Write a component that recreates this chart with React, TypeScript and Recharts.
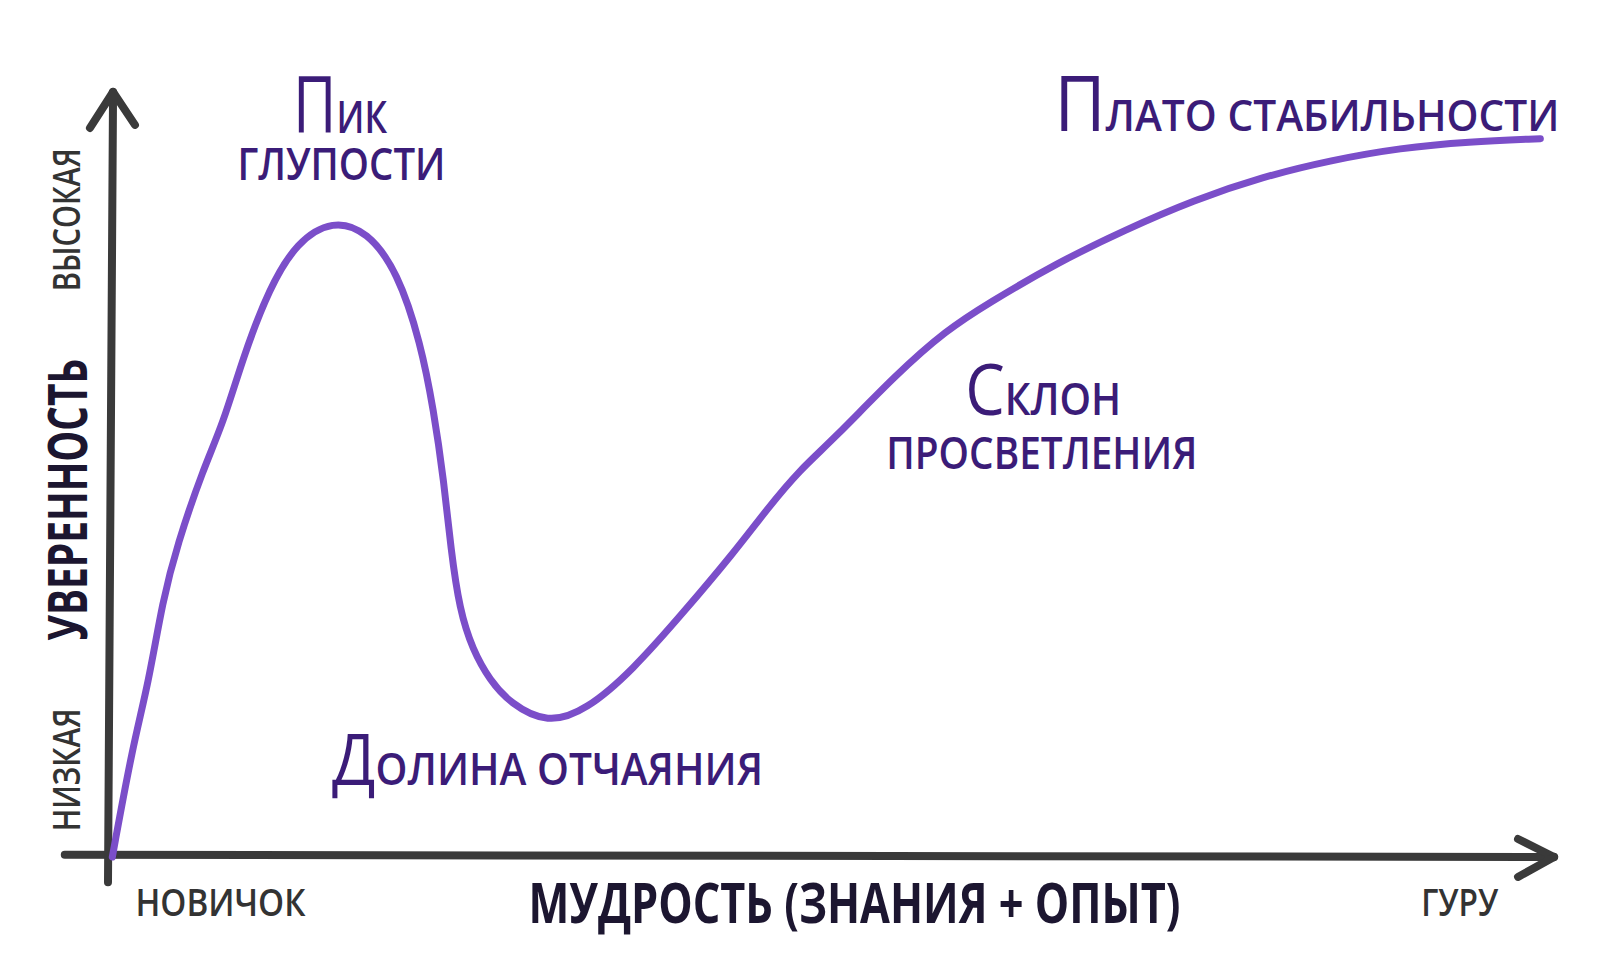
import React from "react";
import { LineChart, Line, XAxis, YAxis, ReferenceLine, ReferenceDot } from "recharts";

// wisdom (knowledge + experience) 0..100, confidence 0..100
const wisdom = [
  0.3, 1.7, 2.8, 3.8, 4.8, 6.6, 8.0, 9.4, 11.2, 13.1, 15.6, 18.0, 20.1, 21.7, 22.6, 23.3, 23.8, 24.4, 25.3,
  26.5, 27.9, 30.5, 33.2, 36.4, 39.9, 43.4, 45.7, 48.0, 50.3, 54.7, 58.2, 61.1, 65.8, 70.6, 75.4, 80.1,
  84.9, 89.7, 94.4, 99.4,
];
const confidence = [
  0, 14.4, 22.6, 33.6, 40.8, 50.7, 56.7, 65.5, 74.4, 80.4, 83.3, 81.8, 76.5, 67.2, 58.4, 49.3, 40.1, 32.3,
  27.1, 23.1, 20.1, 17.4, 19.2, 24.4, 31.9, 39.7, 45.4, 50.6, 54.5, 63.1, 68.9, 72.4, 77.6, 82.0, 85.9,
  88.9, 91.1, 92.7, 93.5, 93.9,
];

const curveNotes = ["Пик", "глупости", "Склон", "просветления", "Долина отчаяния", "Плато стабильности"];
const xTicks = ["новичок", "гуру"];
const yTicks = ["низкая", "высокая"];
const xTitle = "мудрость (знания + опыт)";
const yTitle = "уверенность";

const curve = wisdom.map((w, i) => ({ wisdom: w, confidence: confidence[i] }));

const PURPLE = "#7b4ec9";
const INK = "#3b1c78";
const AXIS = "#3a3a3a";
const FONT = "'Open Sans', 'Noto Sans', sans-serif";

// where each caption sits (data coords, text centred, y = baseline)
const captions = [
  { text: curveNotes[0], x: 16.1, y: 94.6, size: 46, big: 78, len: 94, color: INK },
  { text: curveNotes[1], x: 16.2, y: 88.5, size: 46, len: 208, color: INK },
  { text: curveNotes[2], x: 64.9, y: 57.8, size: 46, big: 72, len: 156, color: INK },
  { text: curveNotes[3], x: 64.8, y: 50.7, size: 46, len: 311, color: INK },
  { text: curveNotes[4], x: 30.5, y: 9.4, size: 46, big: 72, len: 431, color: INK },
  { text: curveNotes[5], x: 83.2, y: 94.9, size: 44, big: 76, len: 505, color: INK },
  { text: xTicks[0], x: 7.8, y: -7.7, size: 38, len: 170, color: "#333" },
  { text: xTicks[1], x: 93.8, y: -7.7, size: 38, len: 77, color: "#333" },
  { text: xTitle, x: 51.8, y: -8.6, size: 56, len: 652, color: "#1c1630", weight: 700 },
  { text: yTicks[0], x: -1.94, y: 11.4, size: 38, len: 123, color: "#333", rotate: true },
  { text: yTicks[1], x: -1.94, y: 83.3, size: 38, len: 143, color: "#333", rotate: true },
  { text: yTitle, x: -1.46, y: 46.7, size: 53, len: 282, color: "#1c1630", weight: 700, rotate: true },
];

const axisSegments = [
  [{ x: -3, y: 0.3 }, { x: 100.35, y: 0 }],
  [{ x: 97.85, y: 2.35 }, { x: 100.35, y: 0 }],
  [{ x: 97.85, y: -2.6 }, { x: 100.35, y: 0 }],
  [{ x: 0, y: -3.3 }, { x: 0.35, y: 100 }],
  [{ x: -1.25, y: 95.3 }, { x: 0.35, y: 100 }],
  [{ x: 1.87, y: 95.7 }, { x: 0.35, y: 100 }],
];

const Caption = (props: any) => {
  const { cx, cy, c } = props;
  const src: string = c.text;
  const hasBig = c.big && src[0] !== src[0].toLowerCase();
  const rest = (hasBig ? src.slice(1) : src).toUpperCase();
  return (
    <text
      x={cx}
      y={cy}
      textAnchor="middle"
      fill={c.color}
      fontFamily={FONT}
      fontWeight={c.weight ?? 600}
      fontSize={c.size}
      textLength={c.len}
      lengthAdjust="spacingAndGlyphs"
      transform={c.rotate ? `rotate(-90, ${cx}, ${cy})` : undefined}
    >
      {hasBig ? (
        <tspan fontSize={c.big} fontWeight={400}>
          {src[0]}
        </tspan>
      ) : null}
      <tspan>{rest}</tspan>
    </text>
  );
};

export default function App() {
  return (
    <div style={{ position: "absolute", left: 0, top: 0, width: 1600, height: 968, background: "#fff" }}>
      <LineChart
        width={1600}
        height={968}
        data={curve}
        margin={{ top: 92, right: 51, left: 108, bottom: 111 }}
      >
        <XAxis type="number" dataKey="wisdom" domain={[0, 100]} hide />
        <YAxis type="number" domain={[0, 100]} hide />
        {axisSegments.map((seg, i) => (
          <ReferenceLine
            key={"ax" + i}
            segment={seg}
            stroke={AXIS}
            strokeWidth={8}
            strokeLinecap="round"
            ifOverflow="visible"
          />
        ))}
        <Line
          type="basis"
          dataKey="confidence"
          stroke={PURPLE}
          strokeWidth={7}
          strokeLinecap="round"
          dot={false}
          activeDot={false}
          isAnimationActive={false}
        />
        {captions.map((c, i) => (
          <ReferenceDot
            key={"cap" + i}
            x={c.x}
            y={c.y}
            r={0}
            ifOverflow="visible"
            shape={(p: any) => <Caption {...p} c={c} />}
          />
        ))}
      </LineChart>
    </div>
  );
}
